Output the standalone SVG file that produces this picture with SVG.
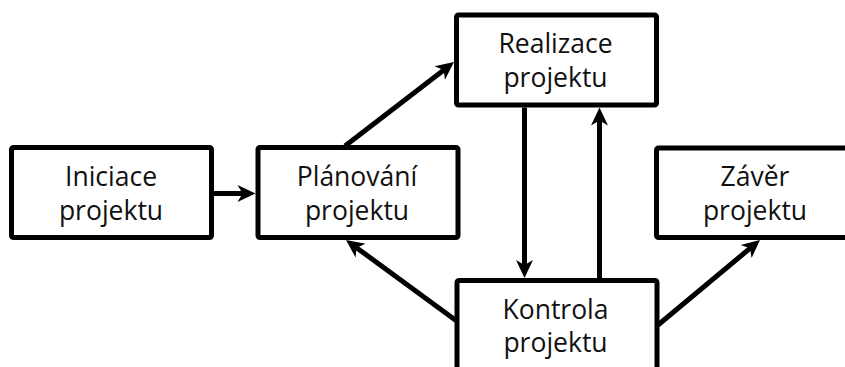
<svg xmlns="http://www.w3.org/2000/svg" width="845" height="367" viewBox="0 0 845 367">
  <style>
    .box { fill: #ffffff; stroke: #000000; stroke-width: 5; stroke-linejoin: round; }
    .lbl { font-family: "Open Sans", "Noto Sans", "DejaVu Sans", sans-serif; font-size: 26.5px; fill: #111111; text-anchor: middle; }
    .edge { fill: none; stroke: #000000; stroke-width: 5; marker-end: url(#arr); }
  </style>
  <defs>
    <marker id="arr" markerUnits="userSpaceOnUse" markerWidth="20" markerHeight="18" refX="8" refY="8.5" orient="auto" overflow="visible">
      <path d="M0,0 L18,8.5 L0,17 L5,8.5 Z" fill="#000000"/>
    </marker>
  </defs>
  <rect width="845" height="367" fill="#ffffff"/>

  <g id="node-iniciace">
    <rect class="box" x="11.5" y="147.5" width="200" height="90" rx="2"/>
    <text class="lbl" x="111" y="186">Iniciace</text>
    <text class="lbl" x="111" y="220">projektu</text>
  </g>
  <g id="node-planovani">
    <rect class="box" x="258" y="147.5" width="200" height="90" rx="2"/>
    <text class="lbl" x="357" y="186">Plánování</text>
    <text class="lbl" x="357" y="220">projektu</text>
  </g>
  <g id="node-realizace">
    <rect class="box" x="456.5" y="15" width="200" height="90" rx="2"/>
    <text class="lbl" x="555.5" y="52.5">Realizace</text>
    <text class="lbl" x="555.5" y="86.5">projektu</text>
  </g>
  <g id="node-zaver">
    <rect class="box" x="656.5" y="148" width="200" height="89.5" rx="2"/>
    <text class="lbl" x="755" y="186">Závěr</text>
    <text class="lbl" x="755" y="220">projektu</text>
  </g>
  <g id="node-kontrola">
    <rect class="box" x="457" y="280.5" width="200" height="90" rx="2"/>
    <text class="lbl" x="555.5" y="318.5">Kontrola</text>
    <text class="lbl" x="555.5" y="351.5">projektu</text>
  </g>

  <g id="connectors">
    <line class="edge" x1="214" y1="193.5" x2="245.5" y2="193.5"/>
    <line class="edge" x1="345" y1="146" x2="446.1" y2="68.2"/>
    <line class="edge" x1="524.5" y1="107.5" x2="524.5" y2="268"/>
    <line class="edge" x1="599.5" y1="278" x2="599.5" y2="117.5"/>
    <line class="edge" x1="456" y1="320.5" x2="354.1" y2="245.9"/>
    <line class="edge" x1="658" y1="325" x2="752.3" y2="246.4"/>
  </g>
</svg>
